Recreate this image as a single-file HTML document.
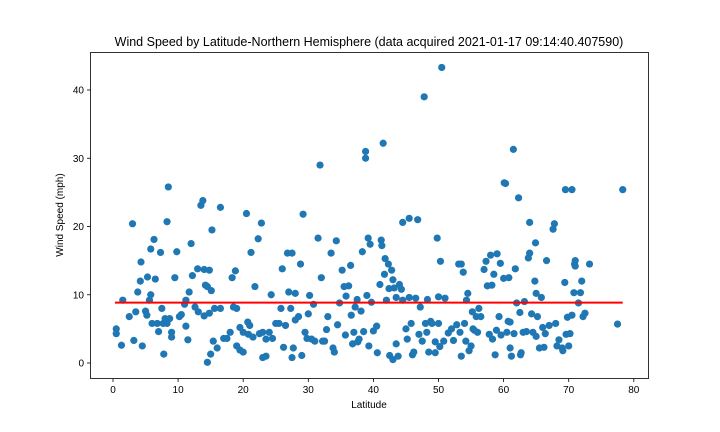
<!DOCTYPE html>
<html><head><meta charset="utf-8"><style>
body{margin:0;background:#fff;}
svg{display:block;font-family:"Liberation Sans","DejaVu Sans",sans-serif;}
</style></head><body>
<svg id="chart" width="720" height="432">
<rect width="720" height="432" fill="#fff"/>
<text x="369" y="46" font-size="12.5" text-anchor="middle">Wind Speed by Latitude-Northern Hemisphere (data acquired 2021-01-17 09:14:40.407590)</text>
<g id="grid"></g>
<g id="points"></g>
<g id="fit"></g>
<rect x="90.5" y="52.5" width="558" height="326" fill="none" stroke="#000" stroke-width="0.8"/>
<text x="369" y="408" font-size="10" text-anchor="middle">Latitude</text>
<text x="63" y="215" font-size="10" text-anchor="middle" transform="rotate(-90 63 215)">Wind Speed (mph)</text>
</svg>
<script>
const lats=[0.5,0.5,1.3,1.5,2.5,3,3.2,3.5,3.8,4.2,4.3,4.5,5,5.2,5.3,5.6,5.8,5.8,6,6.3,6.5,6.8,7,7.3,7.5,7.7,7.8,8,8.3,8.3,8.5,8.7,9,9,9.5,9.8,10.2,10.5,11,11.2,11.2,11.5,11.7,12,12.2,12.6,13,13.1,13.5,13.8,14,14,14.2,14.5,14.5,14.8,14.8,15,15.1,15.2,15.4,15.6,16,16.5,16.5,17,17.5,18,18.3,18.5,18.8,19,19,19.5,19.5,20,20,20.5,20.7,20.8,21,21.2,21.5,21.8,22.3,22.5,22.8,23,23,23.5,23.5,24,24.3,24.5,25,25.5,25.8,26,26.2,26.5,26.8,27,27.3,27.5,27.5,27.7,28,28,28.5,28.8,29,29.2,29.5,29.8,30,30.2,30.5,30.8,31,31.5,31.8,32,32.2,32.5,32.8,33,33.5,33.8,34,34.3,34.5,34.8,35.2,35.5,35.7,35.8,36.2,36.5,36.6,36.8,37,37.2,37.5,37.6,37.8,38.1,38.3,38.5,38.8,38.8,39,39.2,39.3,39.5,39.7,40,40.5,40.6,41,41.2,41.3,41.5,41.7,41.8,42,42.3,42.4,42.5,42.8,43,43,43.2,43.5,43.5,43.8,44,44.3,44.5,44.5,45,45.2,45.5,45.5,45.8,46,46.2,46.5,46.8,47,47.2,47.5,47.8,48,48.2,48.3,48.5,48.8,49,49.5,49.5,49.8,50,50,50.2,50.3,50.5,50.8,51,51.5,52,52.3,52.8,53.1,53.3,53.5,53.5,53.8,54,54.2,54.3,54.5,54.7,55,55.2,55.3,55.5,55.8,56,56.2,56.5,57,57.3,57.5,57.8,58,58.2,58.3,58.5,58.7,58.9,59,59.3,59.5,59.6,60,60.1,60.3,60.5,60.7,60.8,61,61,61.2,61.5,61.6,61.8,62,62.3,62.5,62.6,62.7,63,63.2,63.5,63.8,64,64,64.3,64.5,64.8,64.9,65,65,65.2,65.5,65.8,66,66.2,66.4,66.6,67,67.6,67.8,68,68.2,68.5,69,69.1,69.4,69.5,69.6,69.8,70,70.2,70.5,70.5,70.8,70.9,71,71,71.5,71.8,72,72.2,72.5,73.2,77.5,78.3];
const winds=[4.3,5,2.6,9.2,6.8,20.4,3.3,7.5,10.4,12,14.8,2.5,7.6,7,12.6,9.2,16.7,10,5.8,18.1,12.3,5.8,4.6,16.2,8,5.8,1.3,6.5,5.8,20.7,25.8,6.5,4.5,3.8,12.5,16.3,6.8,7.1,8.6,9.2,5.4,3.4,10.4,17.5,12.8,8.2,13.8,7.5,23.1,23.8,13.7,6.9,11.4,11.2,0.1,13.6,7.3,1.3,10.6,19.5,3.2,8,2.2,22.8,8,3.6,3.6,4.5,12.5,8.2,13.5,2.5,8,5.2,1.9,1.6,4.5,21.9,6,4.2,5.5,16.2,3.8,11.2,18.2,4.3,20.5,0.8,4.5,3.5,1,4.5,10,3.6,5.8,5.8,8,13.8,2.3,5.5,16.1,10.4,8,0.8,16.1,2.2,6.3,10.2,6.8,14.5,1.1,21.8,4.5,3.6,7.2,9.9,3.5,8.6,3.2,18.3,29,12.5,3.2,3.2,4.9,6.8,16.1,2.2,1.6,17.9,5.6,8.8,13.6,11.2,4.1,9.8,11.3,14.3,7,2.8,4.5,8.2,9.3,3.1,3.5,7.6,16.3,4.6,31,30,9.9,18.3,2.5,17.4,8.9,4.7,5.4,1.5,11.5,18,17.2,32.2,13,15.3,9.2,14.5,10.9,1.1,13.6,0.5,12.2,11,9.6,2.8,1,11.5,10.8,9.2,20.6,5,3.5,9.6,21.2,5.8,1.2,1.6,9.5,21,4.2,8.2,3.2,39,5.8,4.5,9.3,1.6,6.1,5.8,1.5,3.1,18.3,9.7,5.8,2.4,14.9,43.3,3.2,9.5,4.4,5,3.3,5.6,14.5,4.5,14.5,1,13.3,5.8,3.2,9.2,10.2,1.8,2.5,7.5,5,4.8,6.8,4.5,8,6.8,13.7,14.9,11.3,4.2,15.8,11.4,3.5,13,1.2,4.8,16,6.8,14.6,4.1,12.4,26.4,26.3,4.5,6.1,12.5,2.2,6,1,31.3,4.3,13.8,8.8,24.2,7.4,1.2,1.5,4.5,9,4.6,15.4,20.6,16.1,7.2,4.5,12,17.6,10.2,3.9,6.8,2.2,9.6,5.2,2.3,4.3,15,5.5,19.6,20.4,5.8,2.5,3.4,2.2,1.8,11.8,25.4,4.2,6.7,2.5,4.3,7,25.4,10.3,14.5,15,14.2,8.8,10.3,12,6.8,7.3,14.5,5.7,25.4];
const fitLats=[0.3,78.3];
const fitWinds=[8.85,8.85];
const xTicks=[0,10,20,30,40,50,60,70,80];
const yTicks=[0,10,20,30,40];
const X=v=>113+v*6.51;
const Y=v=>363-v*6.825;
const NS='http://www.w3.org/2000/svg';
const svg=document.getElementById('chart');
const grid=document.getElementById('grid');
function mk(t,a,p){const e=document.createElementNS(NS,t);for(const k in a)e.setAttribute(k,a[k]);(p||svg).appendChild(e);return e;}
xTicks.forEach(t=>{
  const l=mk('line',{x1:X(t),x2:X(t),y1:378.5,y2:382,stroke:'#000','stroke-width':0.8},grid);
  
  
  const tx=mk('text',{x:X(t),y:393,'font-size':10,'text-anchor':'middle'},grid);
  tx.textContent=t;
  
  
});
yTicks.forEach(t=>{
  const l=mk('line',{x1:87,x2:90.5,y1:Y(t),y2:Y(t),stroke:'#000','stroke-width':0.8},grid);
  
  
  const tx=mk('text',{x:84,y:Y(t)+3.5,'font-size':10,'text-anchor':'end'},grid);
  tx.textContent=t;
  
  
});
const pg=document.getElementById('points');
lats.forEach((la,i)=>{
  const c=mk('circle',{cx:X(la),cy:Y(winds[i]),r:3.6,fill:'#1f77b4'},pg);
  
  
});
const fl=mk('line',{x1:X(fitLats[0]),y1:Y(fitWinds[0]),x2:X(fitLats[1]),y2:Y(fitWinds[1]),stroke:'#ff0000','stroke-width':2},document.getElementById('fit'));


</script>
</body></html>
